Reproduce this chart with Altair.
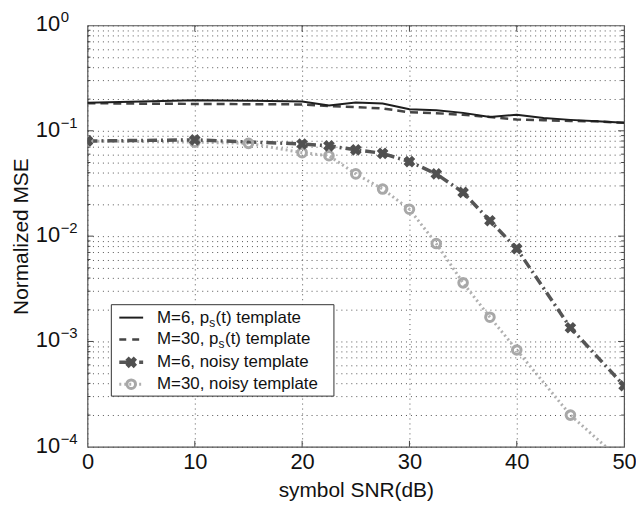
import altair as alt
import pandas as pd

# ---- data ----
snr_ps6 = [0, 5, 10, 15, 20, 22.5, 25, 27.5, 30, 32.5, 35, 37.5, 40, 42.5, 45, 47.5, 50]
mse_ps6 = [0.185, 0.19, 0.195, 0.193, 0.19, 0.174, 0.186, 0.182, 0.16, 0.157, 0.148, 0.135, 0.142, 0.132, 0.127, 0.123, 0.119]

snr_ps30 = [0, 5, 10, 15, 20, 22.5, 25, 27.5, 30, 32.5, 35, 37.5, 40, 42.5, 45, 47.5, 50]
mse_ps30 = [0.183, 0.181, 0.18, 0.179, 0.178, 0.172, 0.168, 0.163, 0.15, 0.147, 0.142, 0.135, 0.128, 0.126, 0.124, 0.123, 0.119]

snr_n6 = [0, 10, 20, 22.5, 25, 27.5, 30, 32.5, 35, 37.5, 40, 45, 50]
mse_n6 = [0.080, 0.082, 0.075, 0.072, 0.066, 0.061, 0.051, 0.039, 0.026, 0.014, 0.0076, 0.00135, 0.00038]

snr_n30 = [0, 10, 15, 20, 22.5, 25, 27.5, 30, 32.5, 35, 37.5, 40, 45, 50]
mse_n30 = [0.080, 0.078, 0.076, 0.062, 0.058, 0.039, 0.028, 0.018, 0.0085, 0.0036, 0.0017, 0.00083, 0.0002, 0.00007]

x_ticks = [0, 10, 20, 30, 40, 50]
y_major = [1, 0.1, 0.01, 0.001, 0.0001]
y_exp = ["0", "\u22121", "\u22122", "\u22123", "\u22124"]
minor_factors = [2, 3, 4, 5, 6, 7, 8, 9]

legend_pre = ["M=6, p", "M=30, p", "M=6, noisy template", "M=30, noisy template"]
legend_sub = ["s", "s", "", ""]
legend_post = ["(t) template", "(t) template", "", ""]

W, H = 540, 424
FONT = "Liberation Sans"

y_minor = [f * d for d in y_major[1:] for f in minor_factors]
y_grid = sorted(y_major + y_minor)

xscale = alt.Scale(domain=[0, 50], nice=False, zero=False)
yscale = alt.Scale(type="log", domain=[0.0001, 1], nice=False)

x_enc = alt.X("snr:Q", scale=xscale, axis=alt.Axis(
    values=x_ticks, grid=True, gridDash=[1, 4], gridColor="#555", gridWidth=1,
    ticks=False, domain=False, labelFont=FONT, labelFontSize=22, labelColor="#111",
    labelPadding=5, labelFlush=False,
    title="symbol SNR(dB)", titleFont=FONT, titleFontSize=21, titleFontWeight="normal",
    titleColor="#111", titleY=44, titleBaseline="middle"))
y_enc = alt.Y("mse:Q", scale=yscale, axis=alt.Axis(
    values=y_grid, grid=True, gridDash=[1, 4], gridColor="#555", gridWidth=1,
    ticks=False, domain=False, labels=False,
    title="Normalized MSE", titleFont=FONT, titleFontSize=21, titleFontWeight="normal",
    titleColor="#111", titleX=-66, titleY=H / 2, titleAngle=270,
    titleBaseline="middle", titleAlign="center"))

df_ps6 = pd.DataFrame({"snr": snr_ps6, "mse": mse_ps6})
df_ps30 = pd.DataFrame({"snr": snr_ps30, "mse": mse_ps30})
df_n6 = pd.DataFrame({"snr": snr_n6, "mse": mse_n6})
df_n30 = pd.DataFrame({"snr": snr_n30, "mse": mse_n30})

base_grid = alt.Chart(df_ps6).mark_line(opacity=0).encode(x=x_enc, y=y_enc)

line_ps6 = alt.Chart(df_ps6).mark_line(color="#1e1e1e", strokeWidth=2, clip=True).encode(x=x_enc, y=y_enc)
line_ps30 = alt.Chart(df_ps30).mark_line(color="#444", strokeWidth=2.5, strokeDash=[8, 5], clip=True).encode(x=x_enc, y=y_enc)
line_n30 = alt.Chart(df_n30).mark_line(color="#b0b0b0", strokeWidth=3, strokeDash=[2, 3], clip=True).encode(x=x_enc, y=y_enc)
line_n6 = alt.Chart(df_n6).mark_line(color="#555", strokeWidth=3.5, strokeDash=[10, 4, 2, 4], clip=True).encode(x=x_enc, y=y_enc)
pts_n30 = alt.Chart(df_n30).mark_point(shape="circle", filled=False, color="#a8a8a8", strokeWidth=3, size=75, clip=True, opacity=1).encode(x=x_enc, y=y_enc)
pts_n6 = alt.Chart(df_n6).mark_point(shape="cross", filled=True, color="#505050", angle=45, size=140, clip=True, opacity=1).encode(x=x_enc, y=y_enc)

# inward ticks (MATLAB style)
df_xt = pd.DataFrame({"snr": x_ticks[1:-1]})
df_ymaj = pd.DataFrame({"mse": y_major[1:-1]})
df_ymin = pd.DataFrame({"mse": y_minor})
tick_style = dict(color="#444", strokeWidth=1)
ticks = [
    alt.Chart(df_xt).mark_rule(**tick_style).encode(x=x_enc, y=alt.value(H), y2=alt.value(H - 6)),
    alt.Chart(df_xt).mark_rule(**tick_style).encode(x=x_enc, y=alt.value(0), y2=alt.value(6)),
    alt.Chart(df_ymaj).mark_rule(**tick_style).encode(y=y_enc, x=alt.value(0), x2=alt.value(6)),
    alt.Chart(df_ymaj).mark_rule(**tick_style).encode(y=y_enc, x=alt.value(W), x2=alt.value(W - 6)),
    alt.Chart(df_ymin).mark_rule(**tick_style).encode(y=y_enc, x=alt.value(0), x2=alt.value(3)),
    alt.Chart(df_ymin).mark_rule(**tick_style).encode(y=y_enc, x=alt.value(W), x2=alt.value(W - 3)),
]

# y tick labels 10^k with superscripts
df_yl = pd.DataFrame({"mse": y_major, "base": ["10"] * len(y_major), "exp": y_exp})
ylab_base = alt.Chart(df_yl).mark_text(align="left", baseline="middle", font=FONT, fontSize=22, color="#111", dy=-1).encode(
    y=y_enc, x=alt.value(-52), text="base:N")
ylab_exp = alt.Chart(df_yl).mark_text(align="left", baseline="middle", font=FONT, fontSize=15, color="#111", dy=-8).encode(
    y=y_enc, x=alt.value(-27), text="exp:N")

# legend
one = pd.DataFrame({"k": [0]})
LX0, LX1, LY0, LY1 = 24, 248, 281, 373
rows_y = [294, 316, 339, 361]
legend_layers = [
    alt.Chart(one).mark_rect(fill="white", stroke="#333", strokeWidth=1).encode(
        x=alt.value(LX0), x2=alt.value(LX1), y=alt.value(LY0), y2=alt.value(LY1))
]
sample_styles = [
    dict(color="#1e1e1e", strokeWidth=2),
    dict(color="#444", strokeWidth=2.5, strokeDash=[7, 6]),
    dict(color="#555", strokeWidth=3.5, strokeDash=[10, 4, 2, 4]),
    dict(color="#b0b0b0", strokeWidth=3, strokeDash=[2, 3]),
]
for i, ry in enumerate(rows_y):
    legend_layers.append(alt.Chart(one).mark_rule(**sample_styles[i]).encode(
        x=alt.value(32), x2=alt.value(56), y=alt.value(ry)))
legend_layers.append(alt.Chart(one).mark_point(shape="cross", filled=True, color="#505050", angle=45, size=140, opacity=1).encode(
    x=alt.value(44), y=alt.value(rows_y[2])))
legend_layers.append(alt.Chart(one).mark_point(shape="circle", filled=False, color="#a8a8a8", strokeWidth=3, size=75, opacity=1).encode(
    x=alt.value(44), y=alt.value(rows_y[3])))

char_w = {"M": 0.833, "=": 0.584, ",": 0.278, " ": 0.278, "p": 0.556, "6": 0.556, "3": 0.556, "0": 0.556}
LFS = 17
for i, ry in enumerate(rows_y):
    tx = 70
    legend_layers.append(alt.Chart(pd.DataFrame({"t": [legend_pre[i]]})).mark_text(
        align="left", baseline="middle", font=FONT, fontSize=LFS, color="#111").encode(
        x=alt.value(tx), y=alt.value(ry), text="t:N"))
    if legend_sub[i]:
        w = sum(char_w.get(c, 0.556) for c in legend_pre[i]) * LFS
        legend_layers.append(alt.Chart(pd.DataFrame({"t": [legend_sub[i]]})).mark_text(
            align="left", baseline="middle", font=FONT, fontSize=12, color="#111", dy=5).encode(
            x=alt.value(tx + w), y=alt.value(ry), text="t:N"))
        legend_layers.append(alt.Chart(pd.DataFrame({"t": [legend_post[i]]})).mark_text(
            align="left", baseline="middle", font=FONT, fontSize=LFS, color="#111").encode(
            x=alt.value(tx + w + 6.5), y=alt.value(ry), text="t:N"))

chart = alt.layer(
    base_grid, *ticks, line_ps30, line_ps6, line_n30, line_n6, pts_n30, pts_n6,
    ylab_base, ylab_exp, *legend_layers
).properties(
    width=W, height=H,
    autosize=alt.AutoSizeParams(type="none"),
    padding={"left": 80, "top": 16, "right": 12, "bottom": 58},
    background="white",
).configure_view(stroke="#555", strokeWidth=1.2)

chart.save("out.html", embed_options={"renderer": "svg", "actions": False})
